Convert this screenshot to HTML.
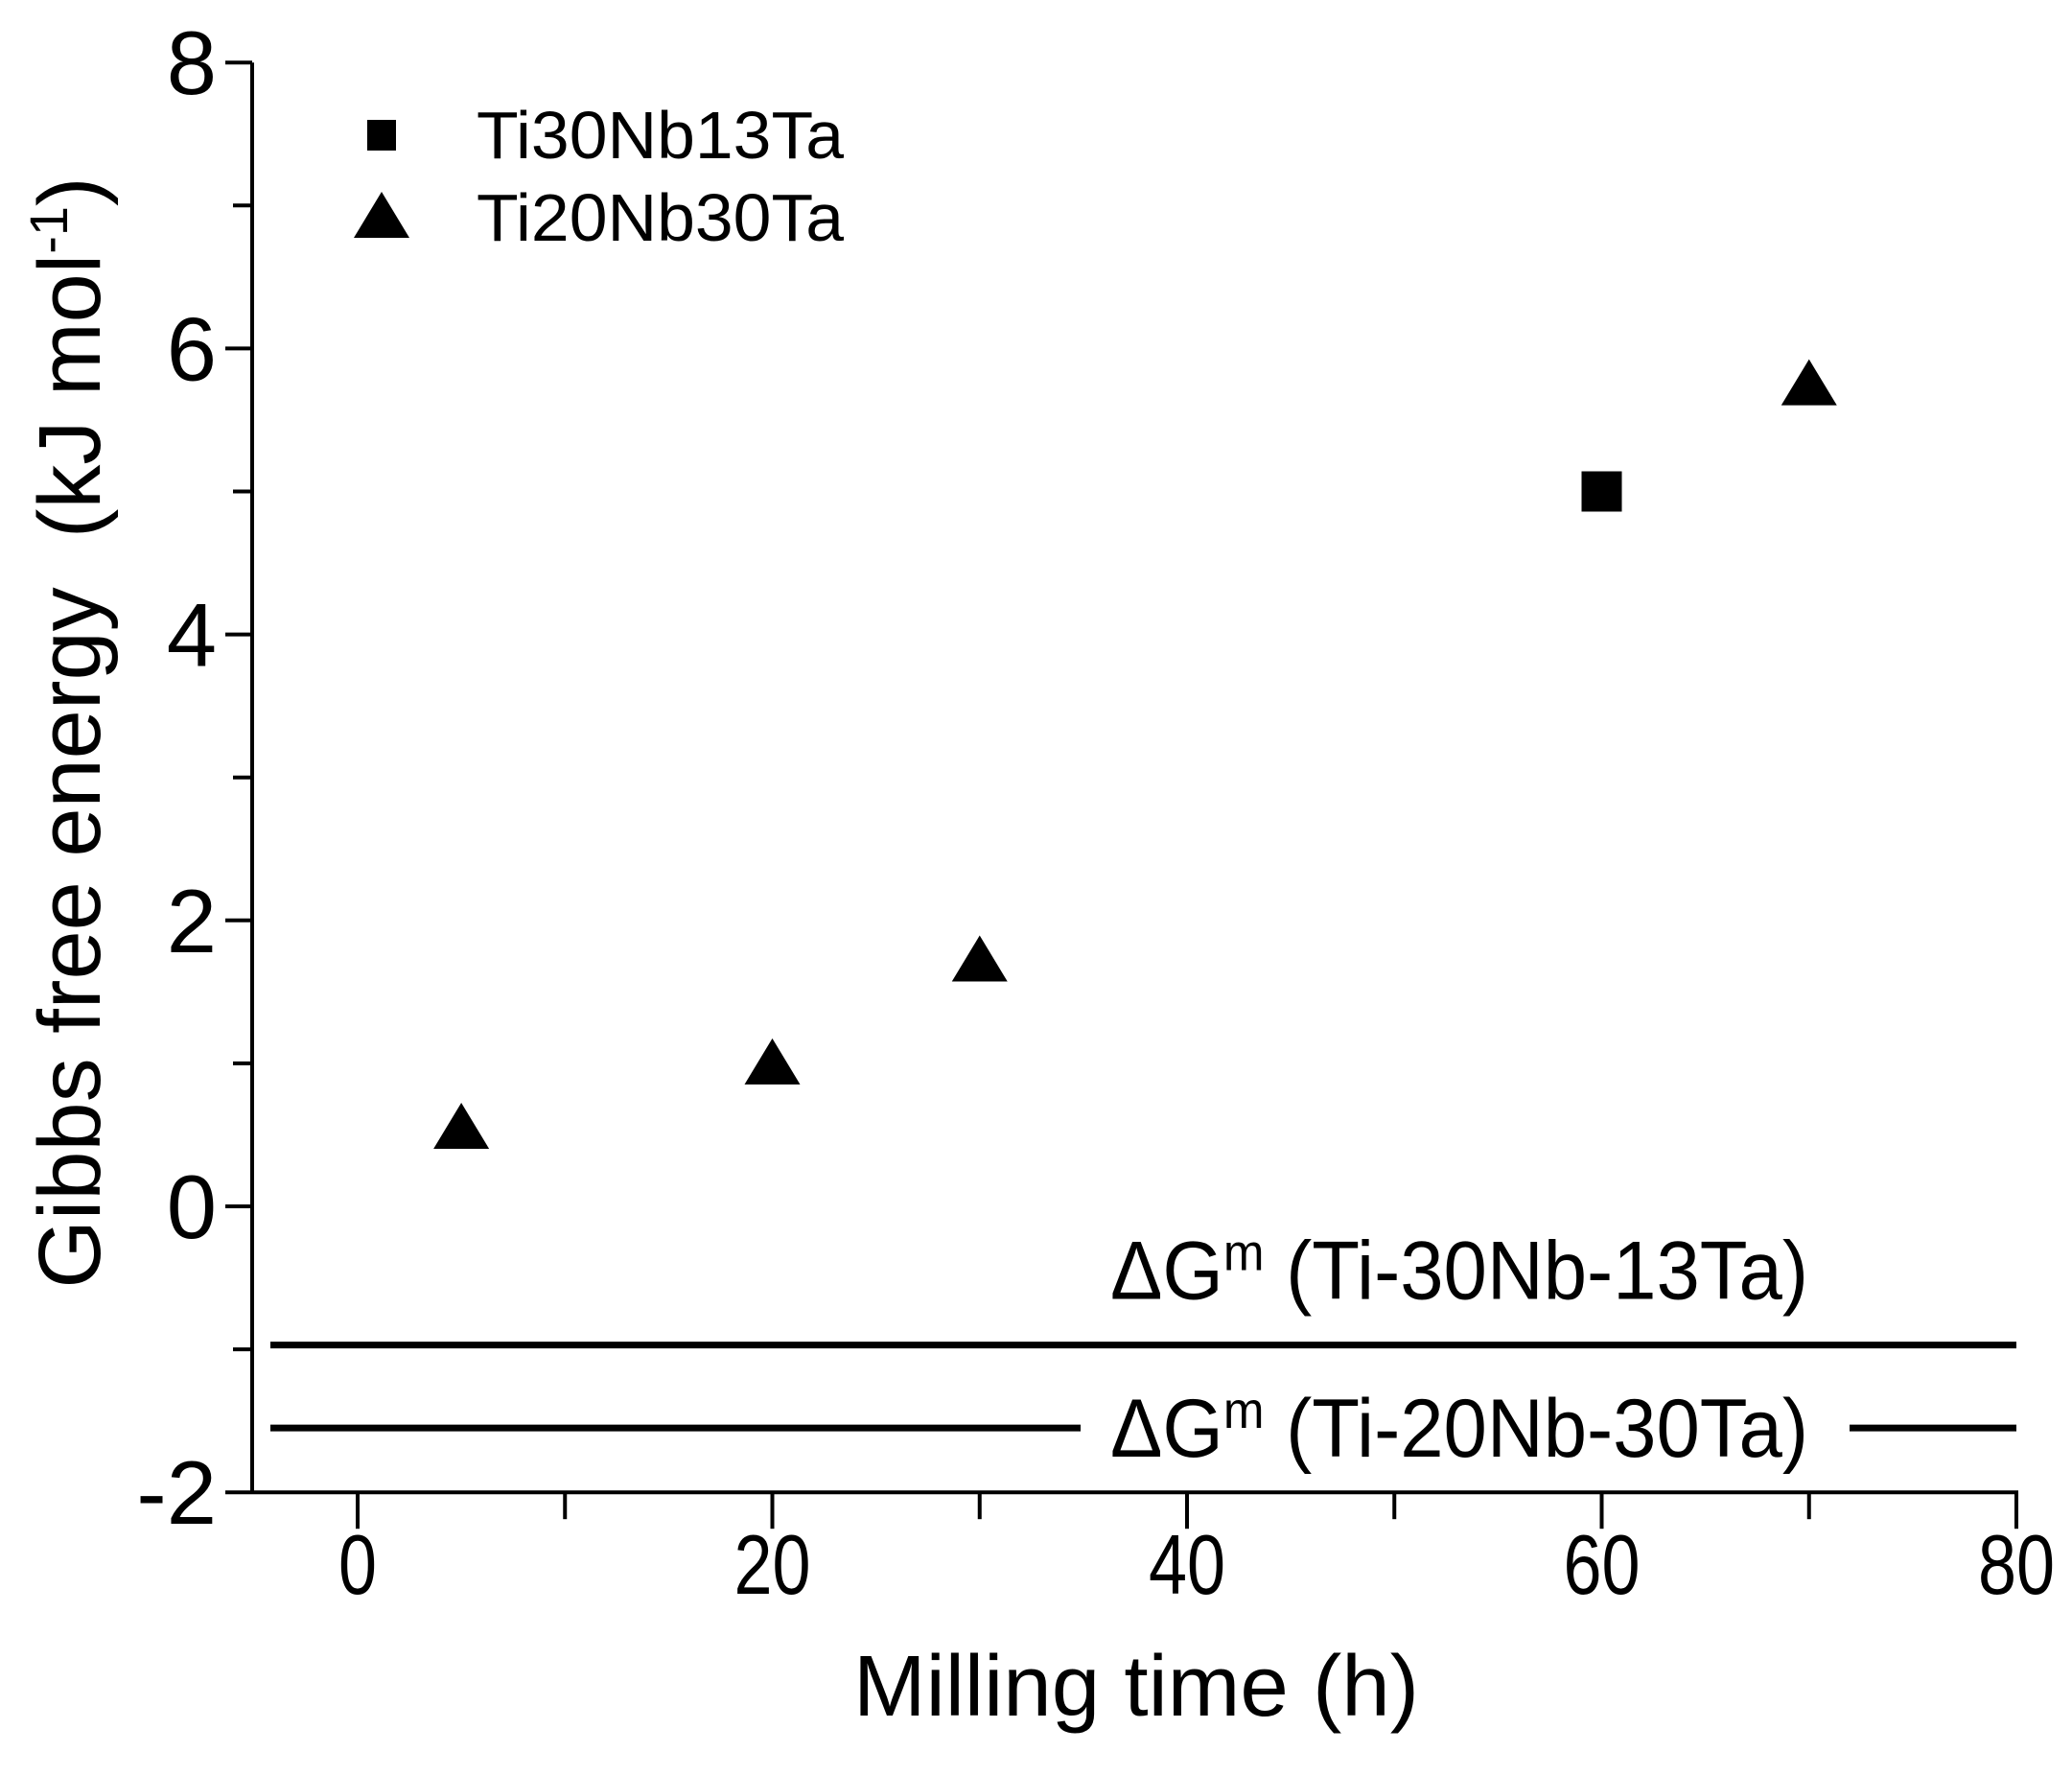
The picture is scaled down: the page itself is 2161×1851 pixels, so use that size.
<!DOCTYPE html>
<html><head><meta charset="utf-8"><style>
html,body{margin:0;padding:0;background:#fff;}
svg{display:block;font-family:"Liberation Sans",sans-serif;}
</style></head><body>
<svg id="chart" width="2161" height="1851" viewBox="0 0 2161 1851" xmlns="http://www.w3.org/2000/svg">
<g id="axes"></g><g id="marks"></g>
</svg>
<script>
const xTicks=[0,20,40,60,80];
const yTicks=[-2,0,2,4,6,8];
const triX=[5,20,30,70];
const triY=[0.55,1.0,1.72,5.75];
const sqX=[60];
const sqY=[5.0];
const refLabels=["Ti-30Nb-13Ta","Ti-20Nb-30Ta"];
const refValues=[-0.97,-1.55];

const NS="http://www.w3.org/2000/svg";
const X0=373,XS=(2103-373)/80,Y0=1258,YS=149.1;
const sx=v=>X0+v*XS, sy=v=>Y0-v*YS;
const axes=document.getElementById('axes'), marks=document.getElementById('marks');
function mk(tag,attrs,parent,text){const e=document.createElementNS(NS,tag);for(const k in attrs)e.setAttribute(k,attrs[k]);if(text!==undefined)e.textContent=text;parent.appendChild(e);return e;}

let e;
e=mk('line',{x1:263,y1:sy(8),x2:263,y2:sy(-2),stroke:'#000','stroke-width':4},axes);


e=mk('line',{x1:263,y1:sy(-2),x2:sx(80)+2,y2:sy(-2),stroke:'#000','stroke-width':4},axes);


for(let v=-2;v<=8;v++){
  const t=mk('line',{x1:(v%2===0?235:243),y1:sy(v),x2:263,y2:sy(v),stroke:'#000','stroke-width':4},axes);
  
  
}
yTicks.forEach(v=>{
  const t=mk('text',{x:226,y:sy(v)+33,'font-size':94,'text-anchor':'end'},axes,String(v));
  
  
});
for(let v=0;v<=80;v+=10){
  const t=mk('line',{x1:sx(v),y1:sy(-2),x2:sx(v),y2:sy(-2)+(v%20===0?38:28),stroke:'#000','stroke-width':4},axes);
  
  
}
xTicks.forEach(v=>{
  const s=String(v);
  const t=mk('text',{x:sx(v),y:1662,'font-size':88,'text-anchor':'middle',textLength:s.length*40,lengthAdjust:'spacingAndGlyphs'},axes,s);
  
  
});
e=mk('text',{x:1185,y:1789,'font-size':90,'text-anchor':'middle',textLength:590,lengthAdjust:'spacingAndGlyphs'},axes,'Milling time (h)');


e=mk('text',{x:0,y:0,'font-size':92,'text-anchor':'middle',transform:'translate(104,764) rotate(-90)'},axes,'');


e.innerHTML='Gibbs free energy&#160;&#160;(kJ mol<tspan font-size="56" dy="-34">-1</tspan><tspan dy="34">)</tspan>';

const gaps=[null,[1127,1929]];
refValues.forEach((v,i)=>{
  const y=sy(v);
  if(gaps[i]){
    e=mk('line',{x1:282,y1:y,x2:gaps[i][0],y2:y,stroke:'#000','stroke-width':7},marks);
    
    
    e=mk('line',{x1:gaps[i][1],y1:y,x2:sx(80),y2:y,stroke:'#000','stroke-width':7},marks);
    
    
  } else {
    e=mk('line',{x1:282,y1:y,x2:sx(80),y2:y,stroke:'#000','stroke-width':7},marks);
    
    
  }
  const ly=i===0?y-48:y+30;
  e=mk('text',{x:1158,y:ly,'font-size':86,textLength:728,lengthAdjust:'spacingAndGlyphs'},marks,'');
  e.innerHTML='ΔG<tspan font-size="54" dy="-30">m</tspan><tspan dy="30"> ('+refLabels[i]+')</tspan>';
  
  
});

function tri(cx,cy,parent){return mk('polygon',{points:`${cx},${cy-26} ${cx-29},${cy+22} ${cx+29},${cy+22}`,fill:'#000'},parent);}
triX.forEach((x,i)=>{
  const t=tri(sx(x),sy(triY[i]),marks);
  
  
});
sqX.forEach((x,i)=>{
  const t=mk('rect',{x:sx(x)-21,y:sy(sqY[i])-21,width:42,height:42,fill:'#000'},marks);
  
  
});
e=mk('rect',{x:383,y:125,width:30,height:32,fill:'#000'},marks);


e=mk('text',{x:497,y:165,'font-size':70,textLength:383,lengthAdjust:'spacingAndGlyphs'},marks,'Ti30Nb13Ta');


e=tri(398,226,marks);


e=mk('text',{x:497,y:251,'font-size':70,textLength:383,lengthAdjust:'spacingAndGlyphs'},marks,'Ti20Nb30Ta');


</script>
</body></html>
